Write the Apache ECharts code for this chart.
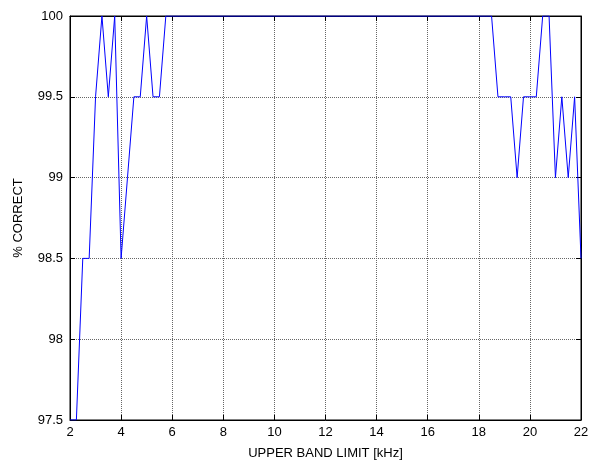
<!DOCTYPE html>
<html>
<head>
<meta charset="utf-8">
<script src="https://cdn.jsdelivr.net/npm/echarts@6/dist/echarts.min.js"></script>
<style>
  html, body { margin: 0; padding: 0; background: #fff; }
  #chart { width: 592px; height: 462px; }
</style>
</head>
<body>
<div id="chart"></div>
<script>
  // 上限频率 (kHz)，0.25 步进
  var bandLimit = []
  for (var i = 0; i <= 80; i++) bandLimit.push(2 + i * 0.25)

  // 读图得到的正确率，前段 2 ~ 5.75 kHz
  var headValues = [97.5, 97.5, 98.5, 98.5, 99.5, 100, 99.5, 100, 98.5, 99, 99.5, 99.5, 100, 99.5, 99.5, 100]
  // 6 ~ 18.5 kHz 全是 100
  var midValues = [100, 100, 100, 100, 100, 100, 100, 100, 100, 100, 100, 100, 100, 100, 100, 100, 100, 100, 100, 100, 100, 100, 100, 100, 100, 100, 100, 100, 100, 100, 100, 100, 100, 100, 100, 100, 100, 100, 100, 100, 100, 100, 100, 100, 100, 100, 100, 100, 100, 100, 100]
  // 18.75 ~ 22 kHz
  var tailValues = [99.5, 99.5, 99.5, 99, 99.5, 99.5, 99.5, 100, 100, 99, 99.5, 99, 99.5, 98.5]

  var xTicks = [2, 4, 6, 8, 10, 12, 14, 16, 18, 20, 22]
  var yTicks = [97.5, 98, 98.5, 99, 99.5, 100]

  var correct = headValues.concat(midValues, tailValues)
  var points = bandLimit.map(function (x, i) { return [x, correct[i]] })

  var font = 'Liberation Sans, Arial, sans-serif'
  var gridLine = { show: true, lineStyle: { color: '#666', type: [1, 1], width: 1 } }
  var tickIn = { show: true, inside: true, length: 5, lineStyle: { color: '#000' } }

  var chart = echarts.init(document.getElementById('chart'))
  chart.setOption({
    animation: false,
    grid: {
      left: 70, right: 11, top: 16, bottom: 42,
      outerBoundsMode: 'none',
      show: true, borderColor: '#000', borderWidth: 1
    },
    xAxis: [
      {
        type: 'value',
        min: xTicks[0],
        max: xTicks[xTicks.length - 1],
        interval: 2,
        name: 'UPPER BAND LIMIT [kHz]',
        nameLocation: 'middle',
        nameGap: 27,
        nameTextStyle: { fontFamily: font, fontSize: 13, color: '#000' },
        axisLine: { lineStyle: { color: '#000' } },
        axisTick: tickIn,
        axisLabel: { fontFamily: font, fontSize: 13, color: '#000', margin: 6 },
        splitLine: gridLine
      },
      {
        type: 'value',
        position: 'top',
        min: xTicks[0],
        max: xTicks[xTicks.length - 1],
        interval: 2,
        axisLine: { lineStyle: { color: '#000' } },
        axisTick: tickIn,
        axisLabel: { show: false },
        splitLine: { show: false }
      }
    ],
    yAxis: [
      {
        type: 'value',
        min: yTicks[0],
        max: yTicks[yTicks.length - 1],
        interval: 0.5,
        name: '% CORRECT',
        nameLocation: 'middle',
        nameGap: 45,
        nameTextStyle: { fontFamily: font, fontSize: 13, color: '#000' },
        axisLine: { show: true, lineStyle: { color: '#000' } },
        axisTick: tickIn,
        axisLabel: { fontFamily: font, fontSize: 13, color: '#000', margin: 7 },
        splitLine: gridLine
      },
      {
        type: 'value',
        position: 'right',
        min: yTicks[0],
        max: yTicks[yTicks.length - 1],
        interval: 0.5,
        axisLine: { show: true, lineStyle: { color: '#000' } },
        axisTick: tickIn,
        axisLabel: { show: false },
        splitLine: { show: false }
      }
    ],
    series: [
      {
        type: 'line',
        data: points,
        showSymbol: false,
        lineStyle: { color: '#0000ff', width: 1 }
      }
    ]
  })
</script>
</body>
</html>
